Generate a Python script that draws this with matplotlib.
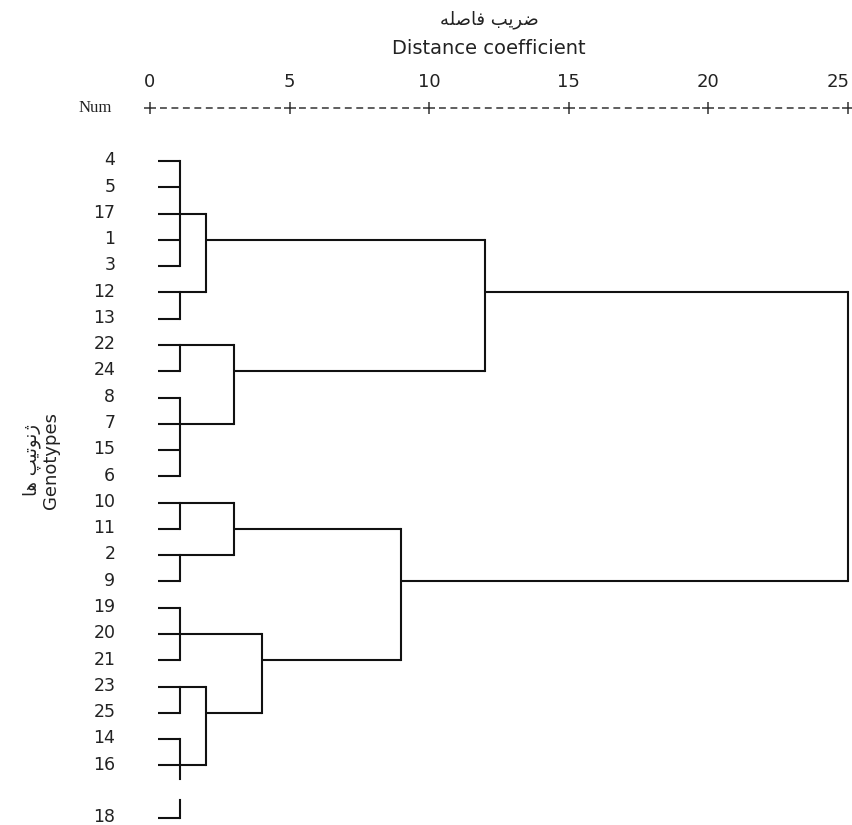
#!/usr/bin/env python
"""
SPSS style dendrogram of 25 genotypes (rescaled distance)
"""

import matplotlib.pyplot as plt
from matplotlib.transforms import ScaledTranslation

# leaves top to bottom, '' is the empty row above 18
genotypes = ['4', '5', '17', '1', '3', '12', '13', '22', '24', '8', '7', '15', '6',
             '10', '11', '2', '9', '19', '20', '21', '23', '25', '14', '16', '', '18']

# clusters: members are leaf labels (str) or earlier clusters (int)
cluster_members = [
    ['4', '5', '17', '1', '3'],   # 0
    ['12', '13'],                 # 1
    [0, 1],                       # 2
    ['22', '24'],                 # 3
    ['8', '7', '15', '6'],        # 4
    [3, 4],                       # 5
    [2, 5],                       # 6
    ['10', '11'],                 # 7
    ['2', '9'],                   # 8
    [7, 8],                       # 9
    ['19', '20', '21'],           # 10
    ['23', '25'],                 # 11
    ['14', '16', '18'],           # 12
    [11, 12],                     # 13
    [10, 13],                     # 14
    [9, 14],                      # 15
    [6, 15],                      # 16
]
cluster_dist = [1.07, 1.07, 2, 1.07, 1.07, 3, 12, 1.07, 1.07, 3,
                1.07, 1.07, 1.07, 2, 4, 9, 25]
# row label where the line of each cluster leaves to its parent
cluster_exit = ['17', '12', '1', '22', '7', '24', '12', '10', '2', '11',
                '20', '23', '16', '25', '21', '9', None]

leaf_start = 0.29
scale_ticks = [0, 5, 10, 15, 20, 25]

W, H = 853, 825
fig = plt.figure(figsize=(W / 100, H / 100), dpi=100)
# axes placed so that 0..25 and the rows fall on the same pixels as the original
ax = fig.add_axes([150 / W, (H - 818) / H, 698 / W, (818 - 161) / H])
ax.set_xlim(0, 25)
ax.set_ylim(25, 0)
for s in ax.spines.values():
    s.set_visible(False)

lw = 1.5
col = '#111111'
blank_rows = [i for i, g in enumerate(genotypes) if g == '']


def exit_row(m):
    if isinstance(m, str):
        return genotypes.index(m)
    return genotypes.index(cluster_exit[m])


def start_x(m):
    if isinstance(m, str):
        return leaf_start
    return cluster_dist[m]


for i, members in enumerate(cluster_members):
    d = cluster_dist[i]
    rows = [exit_row(m) for m in members]
    for m, r in zip(members, rows):
        ax.plot([start_x(m), d], [r, r], color=col, lw=lw, solid_capstyle='butt',
                clip_on=False)
    lo, hi = min(rows), max(rows)
    pieces = [[lo, hi]]
    for b in blank_rows:
        if lo < b < hi:
            pieces = [[lo, b - 0.5], [b + 0.3, hi]]
    for a, b in pieces:
        ax.plot([d, d], [a, b], color=col, lw=lw, solid_capstyle='projecting',
                clip_on=False)

# row labels, a little above the row lines as in SPSS
rows = [i for i, g in enumerate(genotypes) if g != '']
ax.set_yticks(rows)
ax.set_yticklabels([genotypes[i] for i in rows], fontsize=12.5, color='#222222')
ax.tick_params(axis='y', length=0, pad=25)
ax.set_xticks([])
shift = ScaledTranslation(0, 2 / 72, fig.dpi_scale_trans)
for lbl in ax.get_yticklabels():
    lbl.set_transform(lbl.get_transform() + shift)

# scale line on top, like "+---------+"
scale_row = -2.02
for a, b in zip(scale_ticks[:-1], scale_ticks[1:]):
    ax.plot([a + 0.35, b - 0.3], [scale_row, scale_row], color='#333333', lw=1.1,
            linestyle=(0, (4.5, 3)), clip_on=False)
ax.plot(scale_ticks, [scale_row] * len(scale_ticks), linestyle='none', marker='+',
        markersize=8, mew=1.1, color='#333333', clip_on=False)
for t in scale_ticks:
    if t == scale_ticks[-1]:
        ax.text(t + 0.05, -3.0, str(t), ha='right', va='center', fontsize=13,
                color='#222222', clip_on=False)
    else:
        ax.text(t, -3.0, str(t), ha='center', va='center', fontsize=13,
                color='#222222', clip_on=False)
fig.text(95 / W, 1 - 108 / H, 'Num', family='Liberation Serif', fontsize=12,
         ha='center', va='center', color='#222222')

# titles (Persian written in presentation forms, visual order)
fa_title = 'ﺿﺮﯾﺐ ﻓﺎﺻﻠﻪ'[::-1]
fa_ylab = 'ﮊﻧﻮﺗﯿﭗ ﻫﺎ'[::-1]
fig.text(489 / W, 1 - 20 / H, fa_title, ha='center', va='center', fontsize=13,
         color='#222222')
fig.text(489 / W, 1 - 49 / H, 'Distance coefficient', ha='center', va='center',
         fontsize=14, color='#222222')
fig.text(41 / W, 1 - 460 / H, fa_ylab + '\nGenotypes', rotation=90, ha='center',
         va='center', multialignment='center', fontsize=13, color='#222222',
         linespacing=1.1)

fig.savefig('out.png', dpi=100)
